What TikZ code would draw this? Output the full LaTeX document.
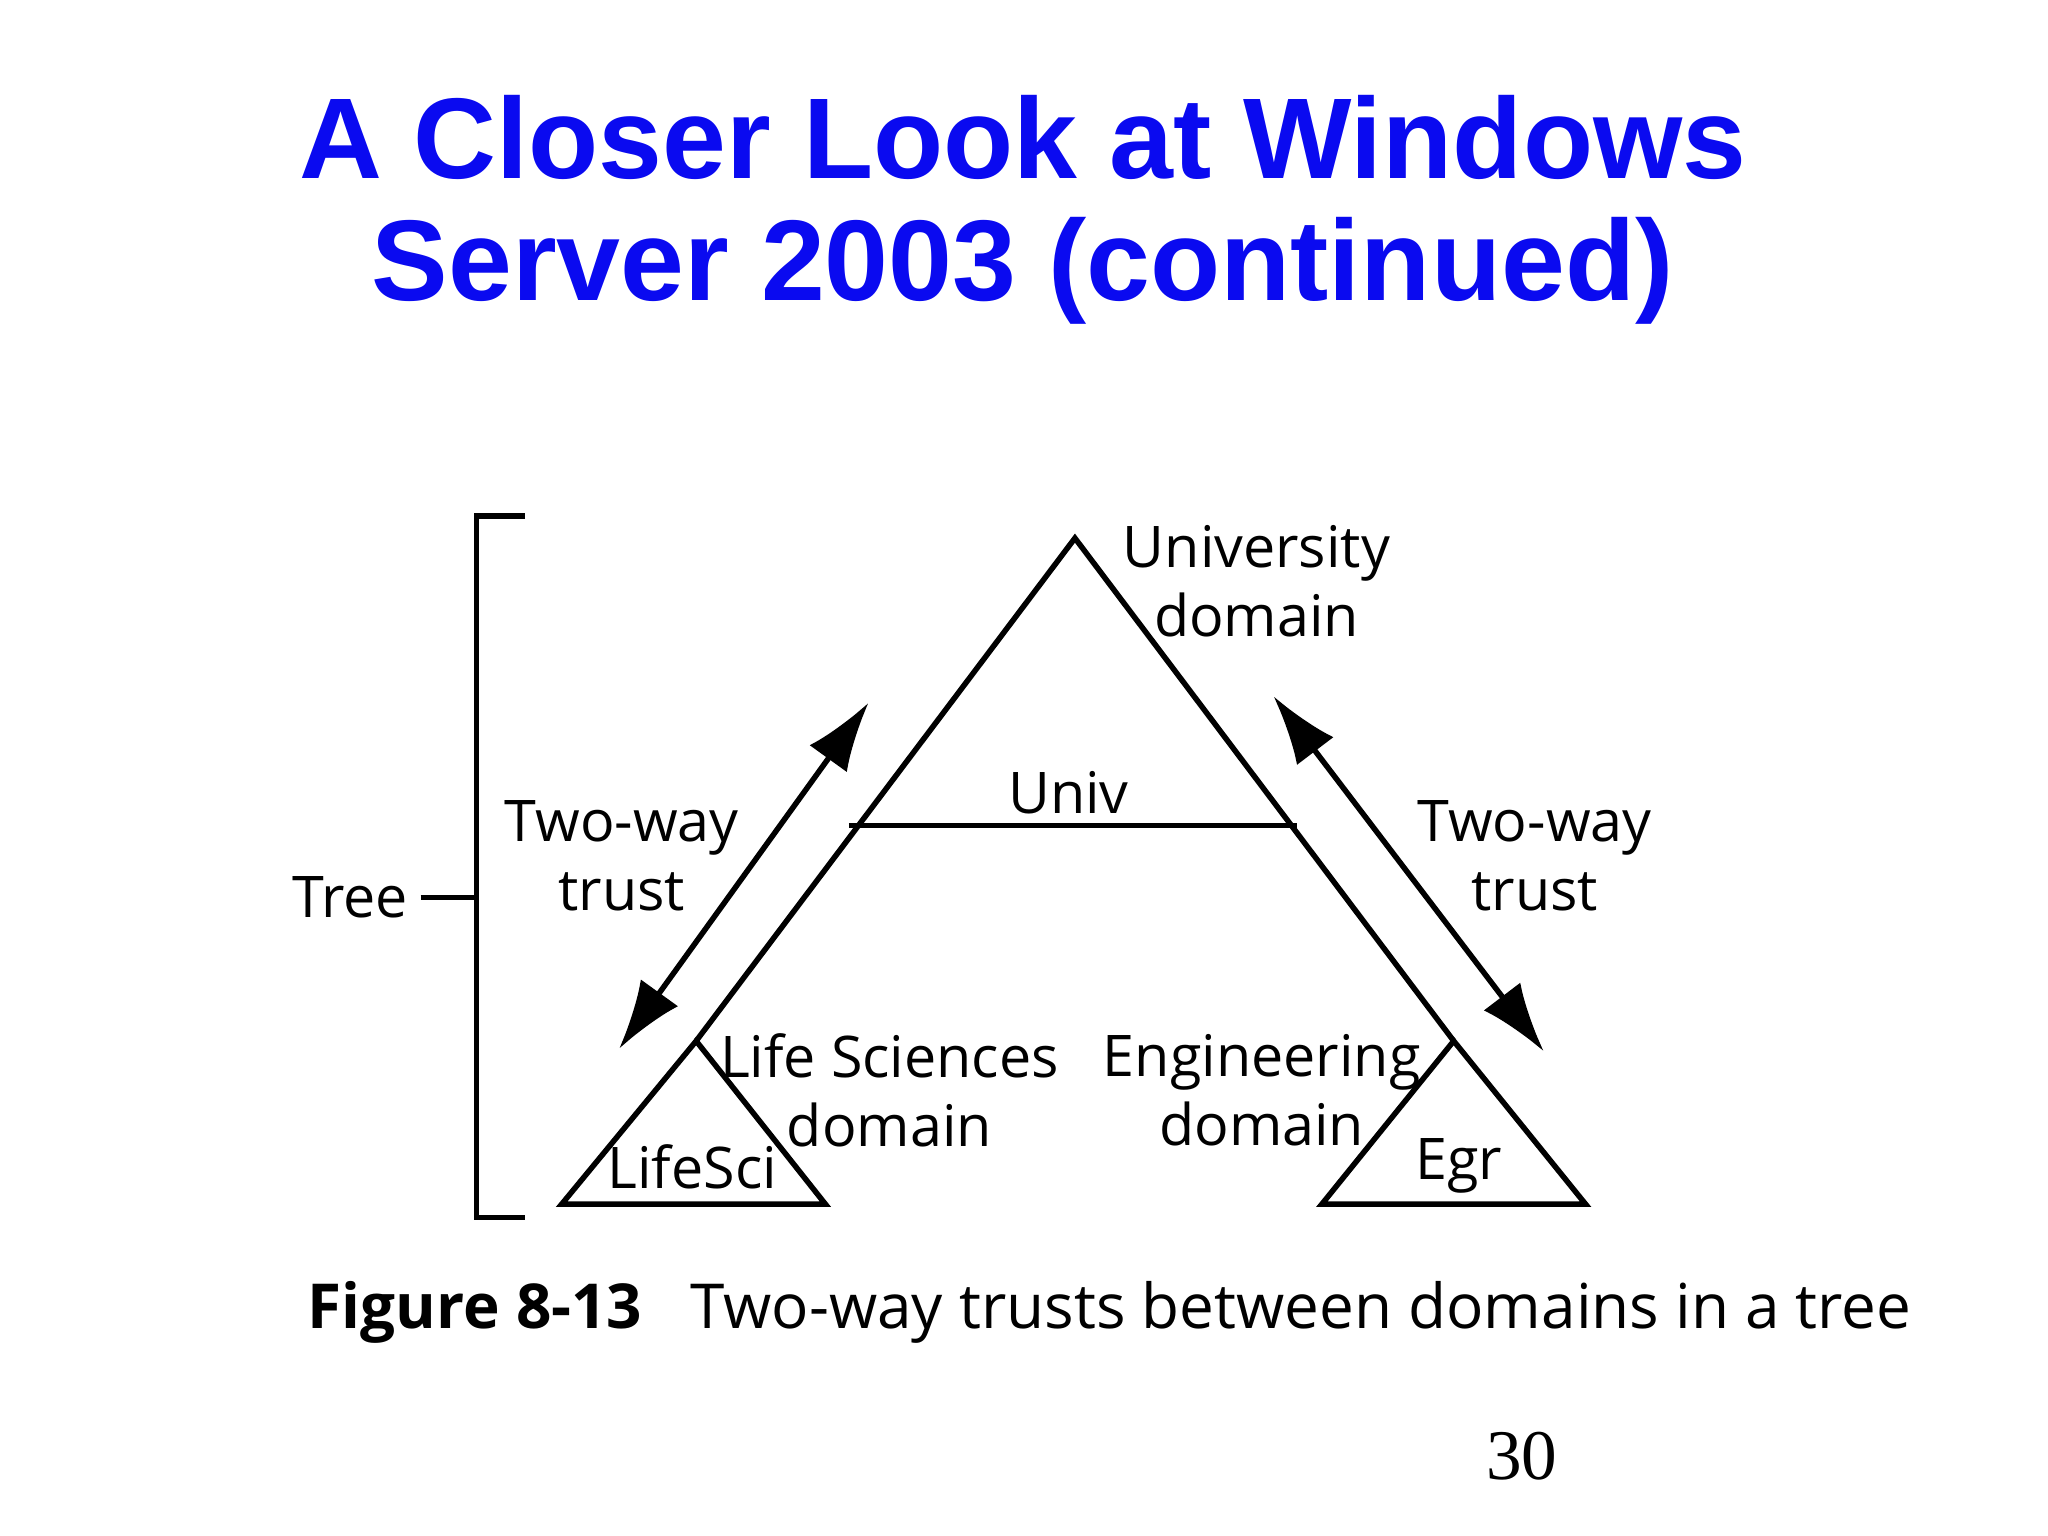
\documentclass[tikz,border=0pt]{standalone}
\usepackage{fontspec}
\setmainfont{Open Sans}
\newfontfamily\titlefont{Liberation Sans}
\newfontfamily\numfont{Liberation Serif}
\usetikzlibrary{arrows.meta}
\definecolor{titleblue}{RGB}{10,10,240}
\begin{document}
\begin{tikzpicture}[x=0.01cm,y=-0.01cm,
  ln/.style={line width=1.2pt,line join=miter},
  lbl/.style={font=\fontsize{12.5}{15}\selectfont,align=center,inner sep=0pt},
  arr/.style={line width=1.2pt,{Latex[length=15pt,width=10pt]}-{Latex[length=15pt,width=10pt]}}]
\useasboundingbox (0,0) rectangle (1568,1176);
\node[font=\titlefont\bfseries\fontsize{25}{30}\selectfont,text=titleblue] (t1) at (783,105) {A Closer Look at Windows};
\node[font=\titlefont\bfseries\fontsize{25}{30}\selectfont,text=titleblue] (t2) at (783,207) {Server 2003 (continued)};
% coordinates
\coordinate (apex) at (823,412);
\coordinate (la) at (533,797);
\coordinate (ra) at (1113,797);
\coordinate (ul) at (650,632);
\coordinate (ur) at (993,632);
\draw[ln] (la) -- (apex) -- (ra);
\draw[ln] (ul) -- (ur);
\draw[ln] (la) -- (430,922) -- (632,922) -- cycle;
\draw[ln] (ra) -- (1012,922) -- (1214,922) -- cycle;
\coordinate (a1) at (665,538); \coordinate (a2) at (474,803);
\coordinate (b1) at (975,533); \coordinate (b2) at (1182,805);
\draw[arr] (a1) -- (a2);
\draw[arr] (b1) -- (b2);
% bracket
\draw[ln] (402,395) -- (365,395) -- (365,932) -- (402,932);
\coordinate (tk) at (365,687);
\node[lbl,anchor=east] (tree) at (313,687) {Tree};
\draw[ln] (322,687) -- (tk);
\node[lbl] (ud) at (962,445) {University\\domain};
\node[lbl] (univ) at (818,607) {Univ};
\node[lbl] (tw1) at (476,655) {Two-way\\trust};
\node[lbl] (tw2) at (1175,655) {Two-way\\trust};
\node[lbl] (ls) at (681,835) {Life Sciences\\domain};
\node[lbl] (eng) at (966,835) {Engineering\\domain};
\node[lbl] (lsci) at (530,893) {LifeSci};
\node[lbl] (egr) at (1117,893) {Egr};
\node[font=\fontsize{13.5}{16}\selectfont\bfseries,anchor=west,inner sep=0pt] (fig) at (235,1005) {Figure 8-13};
\node[font=\fontsize{13.5}{16}\selectfont,anchor=west,inner sep=0pt] (cap) at (528,1005) {Two-way trusts between domains in a tree};
\node[font=\numfont\fontsize{15.5}{18}\selectfont] (num) at (1165,1115) {30};
\end{tikzpicture}
\end{document}
